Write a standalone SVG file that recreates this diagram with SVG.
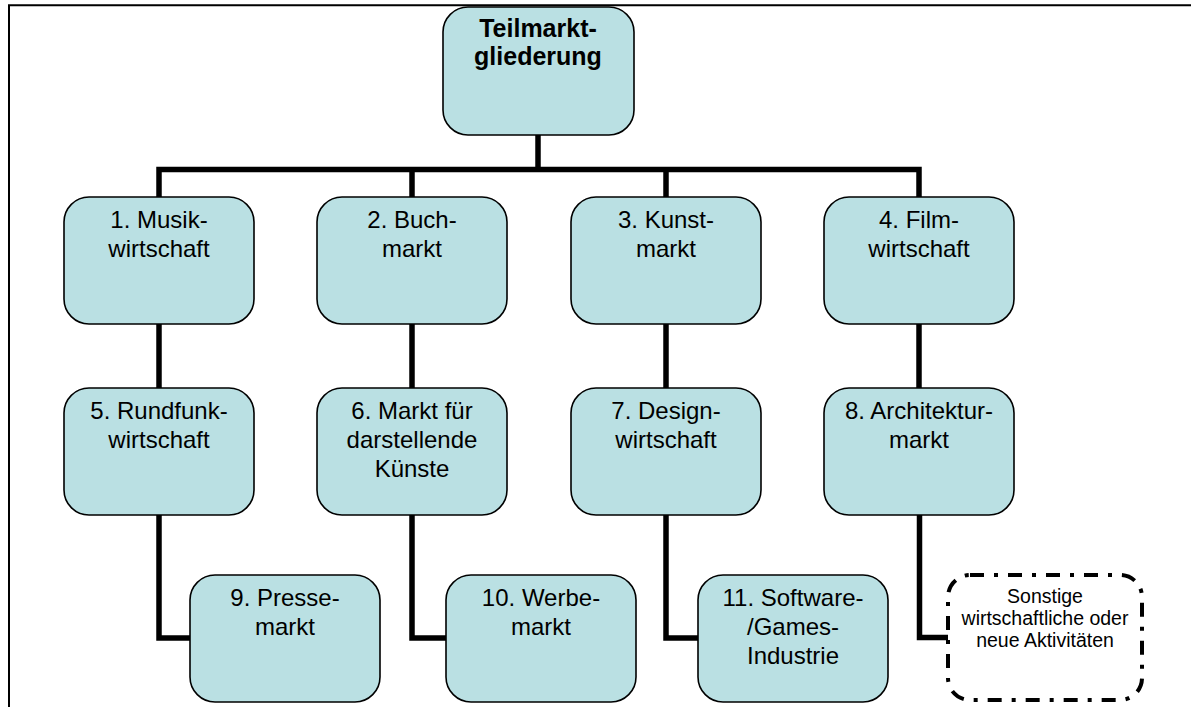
<svg xmlns="http://www.w3.org/2000/svg" width="1191" height="707" viewBox="0 0 1191 707">
<style>
.node{fill:#BAE0E3;stroke:#000;stroke-width:1.6}
.dash{fill:#fff;stroke:#000;stroke-width:4;stroke-dasharray:14 10 4 10}
.conn{fill:none;stroke:#000;stroke-width:5.5;stroke-linejoin:miter}
text{font-family:"Liberation Sans",Arial,sans-serif;fill:#000;text-anchor:middle}
.t{font-size:24px}
.b{font-size:25px;font-weight:bold}
.s{font-size:19.5px}
</style>
<rect width="1191" height="707" fill="#fff"/>
<path d="M9,707 V5.3 H1191" fill="none" stroke="#000" stroke-width="2"/>
<g id="connectors">
<path class="conn" d="M538,135 V169.5"/>
<path class="conn" d="M159,197 V169.5 H919 V197"/>
<path class="conn" d="M412,169.5 V197"/>
<path class="conn" d="M666,169.5 V197"/>
<path class="conn" d="M159,324 V388"/>
<path class="conn" d="M412,324 V388"/>
<path class="conn" d="M666,324 V388"/>
<path class="conn" d="M919,324 V388"/>
<path class="conn" d="M159,515 V638 H190"/>
<path class="conn" d="M412,515 V638 H446"/>
<path class="conn" d="M666,515 V638 H698"/>
<path class="conn" d="M919.5,515 V637.5 H948"/>
</g>
<g id="n0"><rect class="node" x="443" y="7" width="191" height="128" rx="25"/><text class="b" x="538" y="37">Teilmarkt-</text><text class="b" x="538" y="65">gliederung</text></g>
<g id="n1"><rect class="node" x="64" y="197" width="190" height="127" rx="25"/><text class="t" x="159" y="228">1. Musik-</text><text class="t" x="159" y="257">wirtschaft</text></g>
<g id="n2"><rect class="node" x="317" y="197" width="190" height="127" rx="25"/><text class="t" x="412" y="228">2. Buch-</text><text class="t" x="412" y="257">markt</text></g>
<g id="n3"><rect class="node" x="571" y="197" width="190" height="127" rx="25"/><text class="t" x="666" y="228">3. Kunst-</text><text class="t" x="666" y="257">markt</text></g>
<g id="n4"><rect class="node" x="824" y="197" width="190" height="127" rx="25"/><text class="t" x="919" y="228">4. Film-</text><text class="t" x="919" y="257">wirtschaft</text></g>
<g id="n5"><rect class="node" x="64" y="388" width="190" height="127" rx="25"/><text class="t" x="159" y="419">5. Rundfunk-</text><text class="t" x="159" y="448">wirtschaft</text></g>
<g id="n6"><rect class="node" x="317" y="388" width="190" height="127" rx="25"/><text class="t" x="412" y="419">6. Markt für</text><text class="t" x="412" y="448">darstellende</text><text class="t" x="412" y="477">Künste</text></g>
<g id="n7"><rect class="node" x="571" y="388" width="190" height="127" rx="25"/><text class="t" x="666" y="419">7. Design-</text><text class="t" x="666" y="448">wirtschaft</text></g>
<g id="n8"><rect class="node" x="824" y="388" width="190" height="127" rx="25"/><text class="t" x="919" y="419">8. Architektur-</text><text class="t" x="919" y="448">markt</text></g>
<g id="n9"><rect class="node" x="190" y="575" width="190" height="127" rx="25"/><text class="t" x="285" y="606">9. Presse-</text><text class="t" x="285" y="635">markt</text></g>
<g id="n10"><rect class="node" x="446" y="575" width="190" height="127" rx="25"/><text class="t" x="541" y="606">10. Werbe-</text><text class="t" x="541" y="635">markt</text></g>
<g id="n11"><rect class="node" x="698" y="575" width="190" height="127" rx="25"/><text class="t" x="793" y="606">11. Software-</text><text class="t" x="793" y="635">/Games-</text><text class="t" x="793" y="664">Industrie</text></g>
<g id="n12"><rect class="dash" x="948" y="575" width="194" height="125" rx="22"/><text class="s" x="1045" y="603">Sonstige</text><text class="s" x="1045" y="625">wirtschaftliche oder</text><text class="s" x="1045" y="647">neue Aktivitäten</text></g>
</svg>
